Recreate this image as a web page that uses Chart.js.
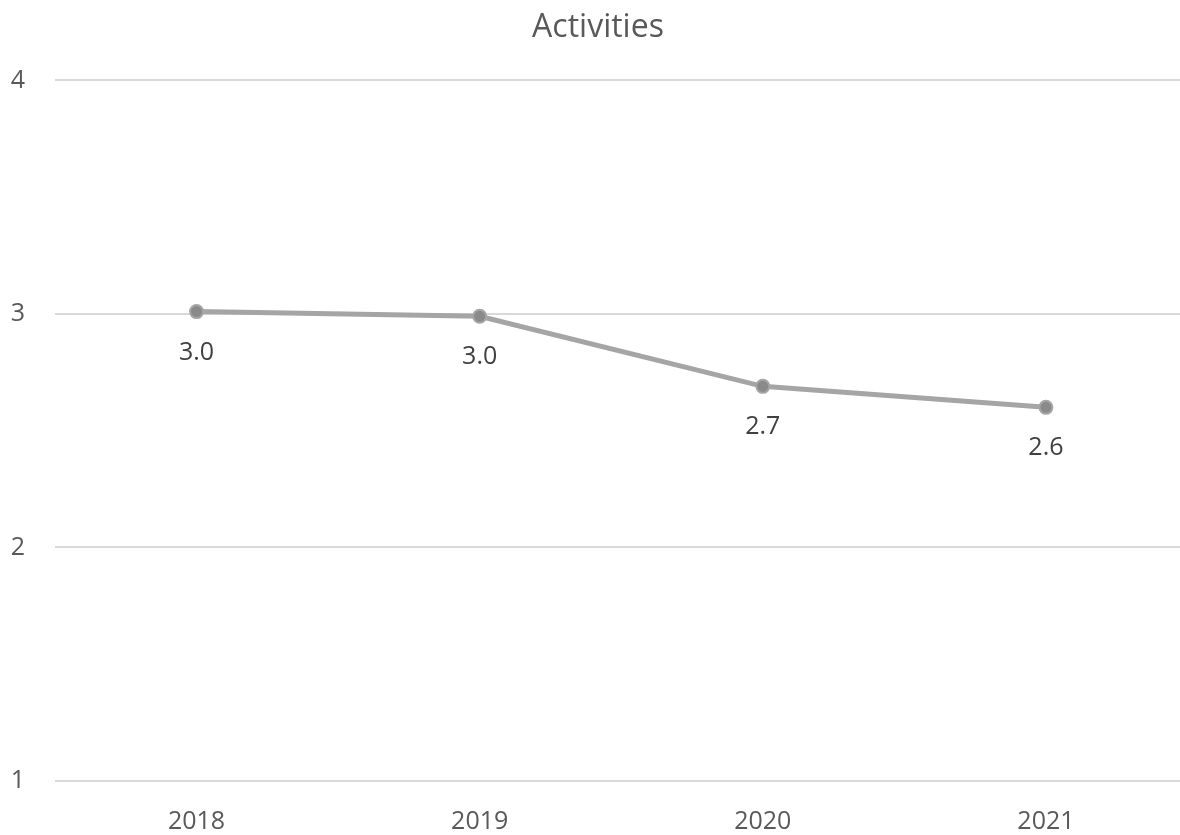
<!DOCTYPE html>
<html>
<head>
<meta charset="utf-8">
<script src="https://cdn.jsdelivr.net/npm/chart.js@4.4.1/dist/chart.umd.min.js"></script>
<style>
  html, body { margin: 0; padding: 0; background: #ffffff; overflow: hidden; width: 1180px; height: 835px; }
  #wrap { width: 1196px; height: 835px; }
  canvas { display: block; width: 1196px; height: 835px; }
</style>
</head>
<body>
<div id="wrap"><canvas id="c" width="1196" height="835"></canvas></div>
<script>
const years = ['2018', '2019', '2020', '2021'];
const activityScores = [3.01, 2.99, 2.69, 2.60];
const yTicks = [1, 2, 3, 4];

const FONT = '"Open Sans", "Noto Sans", sans-serif';

// Writes each point's value (one decimal) beneath its marker
const valueLabels = {
  id: 'valueLabels',
  afterDatasetsDraw(chart) {
    const ctx = chart.ctx;
    const meta = chart.getDatasetMeta(0);
    const values = chart.data.datasets[0].data;
    ctx.save();
    ctx.font = '25px ' + FONT;
    ctx.fillStyle = '#404040';
    ctx.textAlign = 'center';
    ctx.textBaseline = 'middle';
    meta.data.forEach((pt, i) => {
      ctx.fillText(values[i].toFixed(1), pt.x, pt.y + 41);
    });
    ctx.restore();
  }
};

new Chart(document.getElementById('c'), {
  type: 'line',
  data: {
    labels: years,
    datasets: [{
      label: 'Activities',
      data: activityScores,
      borderColor: '#a5a5a5',
      borderWidth: 5,
      pointRadius: 6.5,
      pointBackgroundColor: '#8a8a8a',
      pointBorderColor: '#a5a5a5',
      pointBorderWidth: 2,
      tension: 0,
      fill: false
    }]
  },
  options: {
    responsive: false,
    animation: false,
    layout: { padding: 0 },
    plugins: {
      legend: { display: false },
      tooltip: { enabled: false },
      title: {
        display: true,
        text: 'Activities',
        color: '#595959',
        font: { family: FONT, size: 32, weight: 'normal' },
        padding: { top: 9, bottom: 33 }
      }
    },
    scales: {
      x: {
        offset: true,
        grid: { display: false, drawTicks: false },
        border: { display: false },
        ticks: {
          color: '#595959',
          font: { family: FONT, size: 25 },
          padding: 26,
          maxRotation: 0
        },
        afterFit(scale) { scale.height = 54; }
      },
      y: {
        min: 1,
        max: 4,
        afterBuildTicks(scale) { scale.ticks = yTicks.map(v => ({ value: v })); },
        grid: { color: '#d9d9d9', lineWidth: 2, drawTicks: false },
        border: { display: false },
        ticks: {
          color: '#595959',
          font: { family: FONT, size: 25 },
          padding: 30
        },
        afterFit(scale) { scale.width = 55; }
      }
    }
  },
  plugins: [valueLabels]
});
</script>
</body>
</html>
